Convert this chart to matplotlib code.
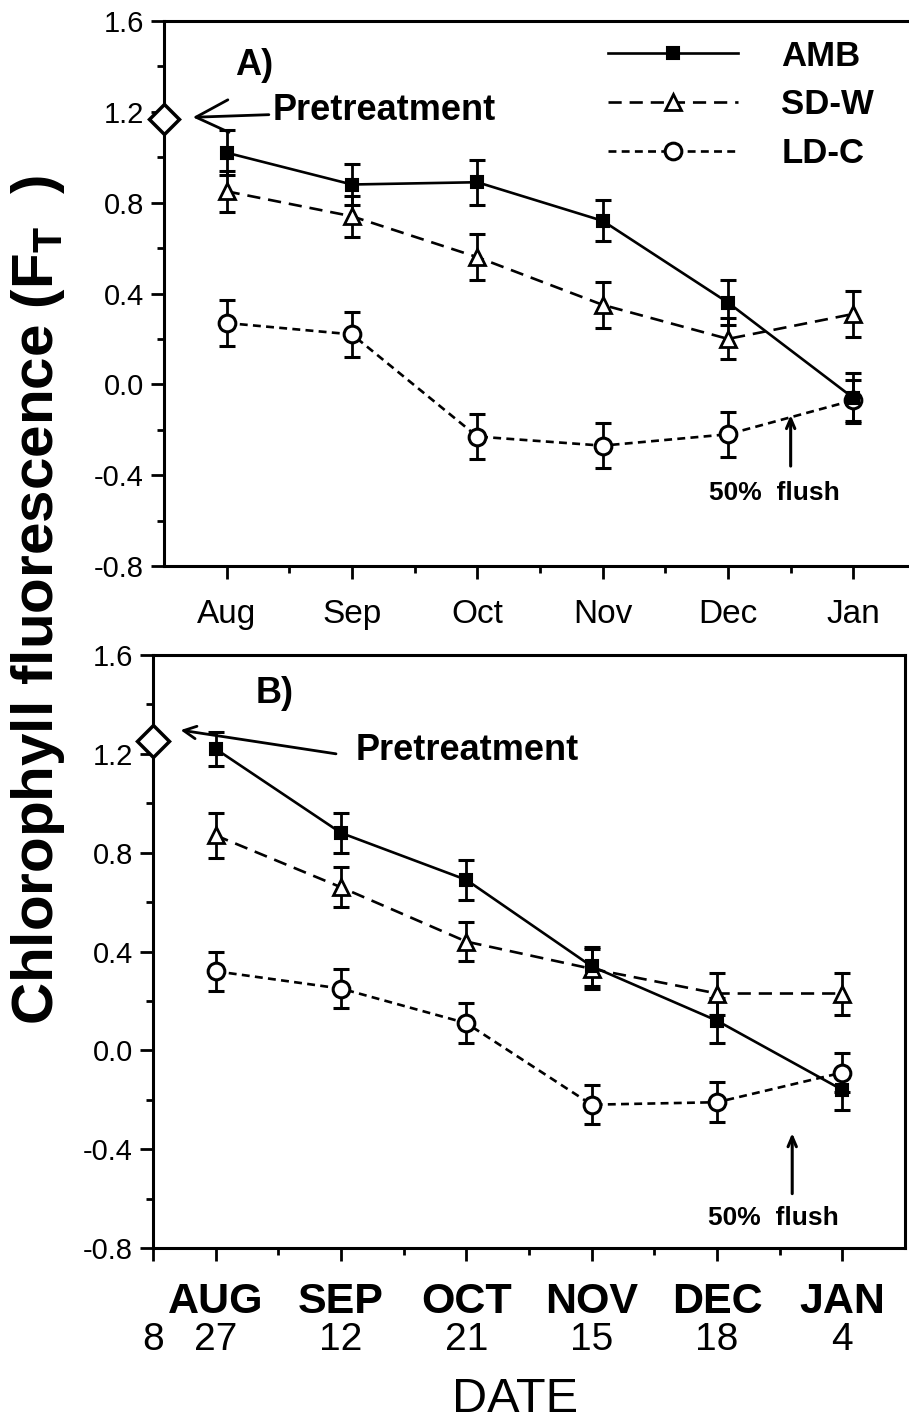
import numpy as np
import matplotlib.pyplot as plt

plt.rcParams['font.family'] = ['Liberation Sans', 'DejaVu Sans']
plt.rcParams['mathtext.fontset'] = 'custom'
plt.rcParams['mathtext.rm'] = 'Liberation Sans:bold'
plt.rcParams['mathtext.it'] = 'Liberation Sans:bold'

# sampling positions (one per month), pretreatment sits half a step before
months_a = ["Aug", "Sep", "Oct", "Nov", "Dec", "Jan"]
months_b = ["AUG", "SEP", "OCT", "NOV", "DEC", "JAN"]
days_b = ["8", "27", "12", "21", "15", "18", "4"]
x = np.arange(6)
x_pre = -0.5

# panel A
pre_a = 1.17
amb_a = [1.02, 0.88, 0.89, 0.72, 0.36, -0.06]
amb_a_err = [0.10, 0.09, 0.10, 0.09, 0.10, 0.11]
sdw_a = [0.85, 0.74, 0.56, 0.35, 0.20, 0.31]
sdw_a_err = [0.09, 0.09, 0.10, 0.10, 0.09, 0.10]
ldc_a = [0.27, 0.22, -0.23, -0.27, -0.22, -0.07]
ldc_a_err = [0.10, 0.10, 0.10, 0.10, 0.10, 0.09]

# panel B
pre_b = 1.25
amb_b = [1.22, 0.88, 0.69, 0.34, 0.12, -0.16]
amb_b_err = [0.07, 0.08, 0.08, 0.08, 0.09, 0.08]
sdw_b = [0.87, 0.66, 0.44, 0.33, 0.23, 0.23]
sdw_b_err = [0.09, 0.08, 0.08, 0.08, 0.085, 0.085]
ldc_b = [0.32, 0.25, 0.11, -0.22, -0.21, -0.09]
ldc_b_err = [0.08, 0.08, 0.08, 0.08, 0.08, 0.08]

yticks = [-0.8, -0.4, 0.0, 0.4, 0.8, 1.2, 1.6]

styles = {
    "AMB": dict(color="black", lw=1.9, ls="-", marker="s", ms=9, mfc="black", mec="black", mew=1.5),
    "SD-W": dict(color="black", lw=1.9, ls=(0, (5, 3)), marker="^", ms=12, mfc="white", mec="black", mew=2),
    "LD-C": dict(color="black", lw=1.9, ls=(0, (3, 2)), marker="o", ms=12, mfc="white", mec="black", mew=2.2),
}


def style_axes(ax):
    ax.set_xlim(-0.5, 5.5)
    ax.set_ylim(-0.8, 1.6)
    ax.set_yticks(yticks)
    ax.set_yticklabels([f"{v:.1f}" for v in yticks])
    ax.set_yticks(np.arange(-0.6, 1.6, 0.4), minor=True)
    ax.set_xticks(x)
    ax.set_xticks(np.arange(0.5, 5.5, 1.0), minor=True)
    for sp in ax.spines.values():
        sp.set_linewidth(2.2)
    ax.tick_params(which='major', direction='out', length=9.5, width=2, labelsize=21, pad=5)
    ax.tick_params(which='minor', direction='out', length=5, width=2)


def draw_series(ax, name, y, err):
    st = styles[name]
    ax.errorbar(x, y, yerr=err, fmt='none', ecolor='black', elinewidth=2,
                capsize=6, capthick=2.2, zorder=2)
    ax.plot(x, y, label=name, zorder=3, **st)


fig = plt.figure(figsize=(9.09, 14.22), dpi=100)
axA = fig.add_axes([0.1804, 0.60197, 0.8273, 0.38326])
axB = fig.add_axes([0.16832, 0.12236, 0.8273, 0.41702])

for ax in (axA, axB):
    style_axes(ax)

# ---- panel A
draw_series(axA, "LD-C", ldc_a, ldc_a_err)
draw_series(axA, "SD-W", sdw_a, sdw_a_err)
draw_series(axA, "AMB", amb_a, amb_a_err)
axA.plot([x_pre], [pre_a], marker="D", ms=15, mfc="white", mec="black", mew=2.5,
         clip_on=False, zorder=5)
axA.set_xticklabels(months_a, fontsize=24)
axA.tick_params(axis='x', which='major', pad=14)

handles, labels = axA.get_legend_handles_labels()
order = [labels.index(n) for n in ["AMB", "SD-W", "LD-C"]]
axA.legend([handles[i] for i in order], [labels[i] for i in order],
           loc='upper left', bbox_to_anchor=(0.59, 0.966), frameon=False,
           handlelength=3.75, handletextpad=1.25, labelspacing=0.45, borderpad=0,
           borderaxespad=0, numpoints=1, prop=dict(weight='bold', size=25))

axA.text(0.064, 1.405, "A)", fontsize=26, fontweight='bold', ha='left', va='center')
axA.annotate("Pretreatment", xy=(-0.27, 1.176), xytext=(0.37, 1.205),
             fontsize=26, fontweight='bold', ha='left', va='center',
             arrowprops=dict(arrowstyle='->,head_length=0.9,head_width=0.45', lw=2,
                             color='black', shrinkA=1, shrinkB=0))
axA.annotate("", xy=(4.5, -0.135), xytext=(4.5, -0.36),
             arrowprops=dict(arrowstyle='->,head_length=0.7,head_width=0.3', lw=2.2,
                             color='black', shrinkA=0, shrinkB=0))
axA.text(3.85, -0.48, "50%  flush", fontsize=19, fontweight='bold', ha='left', va='center')

# ---- panel B
draw_series(axB, "LD-C", ldc_b, ldc_b_err)
draw_series(axB, "SD-W", sdw_b, sdw_b_err)
draw_series(axB, "AMB", amb_b, amb_b_err)
axB.plot([x_pre], [pre_b], marker="D", ms=16, mfc="white", mec="black", mew=2.5,
         clip_on=False, zorder=5)

axB.set_xticks([x_pre] + list(x))
axB.set_xticklabels([""] + months_b, fontsize=31, fontweight='bold')
axB.tick_params(axis='x', which='major', pad=15)
for xi, d in zip([x_pre] + list(x), days_b):
    axB.text(xi, -0.155, d, transform=axB.get_xaxis_transform(), fontsize=28,
             ha='center', va='center')

axB.text(0.32, 1.445, "B)", fontsize=26, fontweight='bold', ha='left', va='center')
axB.text(1.12, 1.215, "Pretreatment", fontsize=26, fontweight='bold', ha='left', va='center')
axB.annotate("", xy=(-0.28, 1.296), xytext=(0.96, 1.20),
             arrowprops=dict(arrowstyle='->,head_length=0.9,head_width=0.45', lw=2,
                             color='black', shrinkA=0, shrinkB=0))
axB.annotate("", xy=(4.6, -0.335), xytext=(4.6, -0.58),
             arrowprops=dict(arrowstyle='->,head_length=0.7,head_width=0.3', lw=2.2,
                             color='black', shrinkA=0, shrinkB=0))
axB.text(3.93, -0.68, "50%  flush", fontsize=19, fontweight='bold', ha='left', va='center')

fig.text(0.567, 0.007, "DATE", fontsize=35, ha='center', va='baseline')
fig.text(0.042, 0.578, r"Chlorophyll fluorescence (F$_\mathrm{T}$  )", fontsize=42,
         fontweight='bold', rotation=90, ha='center', va='center')

fig.savefig("out.png", dpi=100)
